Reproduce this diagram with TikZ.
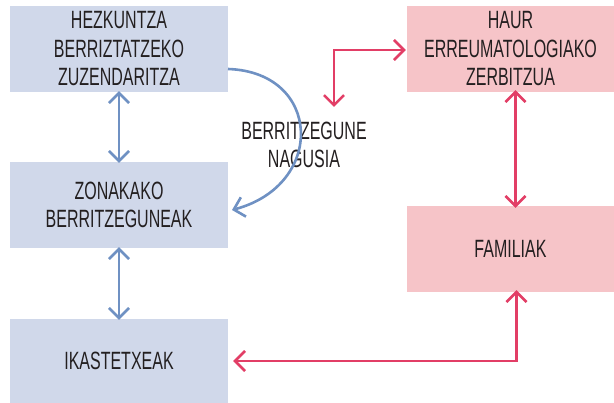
\documentclass[tikz,border=0pt]{standalone}
\usepackage{fontspec}
\setmainfont{Liberation Sans}[FakeStretch=0.64]
\usetikzlibrary{arrows.meta}
\definecolor{boxblue}{HTML}{D0D8EA}
\definecolor{boxpink}{HTML}{F6C4C8}
\definecolor{lineblue}{HTML}{6F91C3}
\definecolor{linered}{HTML}{E23E66}
\definecolor{txtgray}{HTML}{231F20}

\begin{document}
\begin{tikzpicture}[x=1pt,y=-1pt,
  font=\fontsize{25}{28.5}\selectfont,
  bluebox/.style={fill=boxblue, minimum width=218pt, minimum height=86pt, inner sep=0pt, align=center, text=txtgray},
  pinkbox/.style={fill=boxpink, minimum width=207pt, minimum height=86pt, inner sep=0pt, align=center, text=txtgray},
  bluearrow/.style={draw=lineblue, line width=2.6pt, {Straight Barb[length=10pt,width=20pt]}-{Straight Barb[length=10pt,width=20pt]}},
  redarrow/.style={draw=linered, line width=2.6pt, {Straight Barb[length=10pt,width=20pt]}-{Straight Barb[length=10pt,width=20pt]}}]
  \useasboundingbox (0,0) rectangle (614,403);
  % left column
  \node[bluebox] (zuz) at (119,49) {HEZKUNTZA\\BERRIZTATZEKO\\ZUZENDARITZA};
  \node[bluebox] (zon) at (119,205) {ZONAKAKO\\BERRITZEGUNEAK};
  \node[bluebox, minimum height=84pt] (ika) at (119,361) {IKASTETXEAK};
  % right column
  \node[pinkbox] (haur) at (510.5,49) {HAUR\\ERREUMATOLOGIAKO\\ZERBITZUA};
  \node[pinkbox] (fam) at (510.5,249) {FAMILIAK};
  % middle
  \node[text=txtgray, align=center] (nag) at (304,145) {BERRITZEGUNE\\NAGUSIA};
  \coordinate (curvestart) at (228,69);
  \coordinate (curveend) at (232,210);
  \coordinate (nagtop) at (334,107);
  % blue links
  \draw[bluearrow] ([yshift=1]zuz.south) -- ([yshift=-1]zon.north);
  \draw[bluearrow] ([yshift=1]zon.south) -- ([yshift=-1]ika.north);
  \draw[draw=lineblue, line width=2.6pt, -{Straight Barb[length=10pt,width=20pt]}]
    (curvestart) .. controls (322,72) and (326,185) .. (curveend);
  % red links
  \draw[redarrow] (nagtop) |- ([xshift=-1]haur.west |- 0,50);
  \draw[redarrow] ([xshift=5,yshift=2]haur.south) -- ([xshift=5,yshift=-2]fam.north);
  \draw[redarrow] ([xshift=5]ika.east) -| ([xshift=6,yshift=2]fam.south);
\end{tikzpicture}
\end{document}
